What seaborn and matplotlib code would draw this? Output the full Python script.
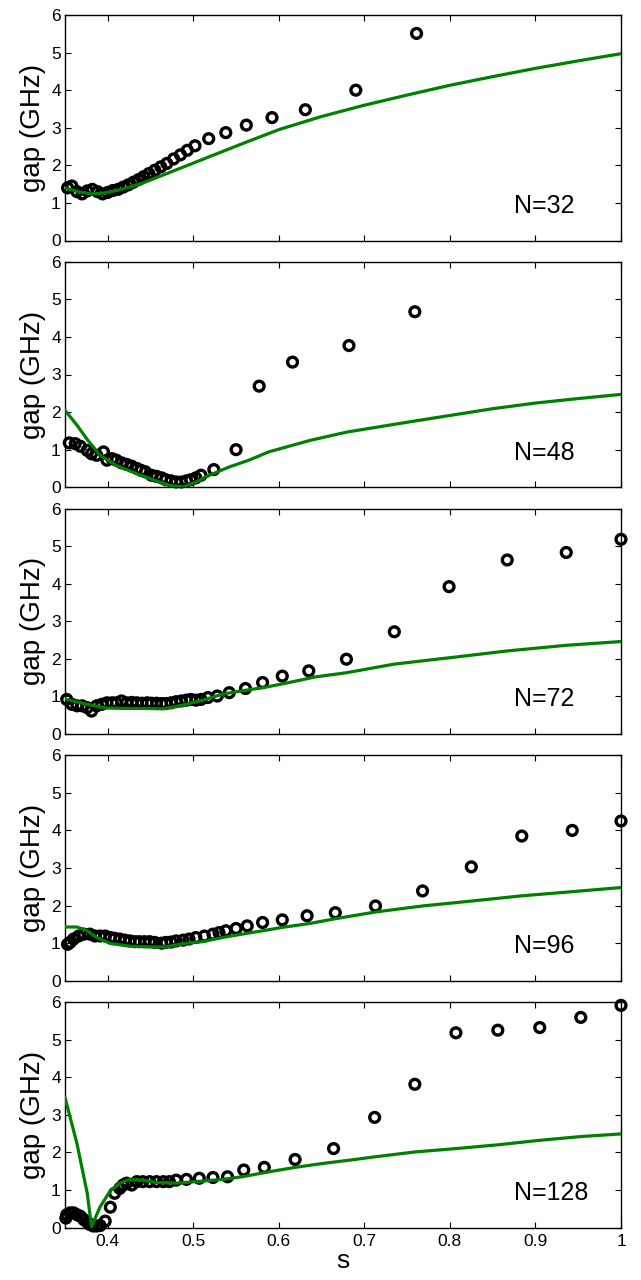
import numpy as np
import pandas as pd
import matplotlib
matplotlib.use('Agg')
import matplotlib.pyplot as plt
import seaborn as sns

# 数据: 每个N的实验点(圆圈)和理论曲线(绿线)
s_n32 = [0.353, 0.358, 0.364, 0.370, 0.376, 0.382, 0.388, 0.394, 0.400, 0.406,
         0.412, 0.418, 0.424, 0.430, 0.436, 0.442, 0.448, 0.455, 0.462, 0.469,
         0.477, 0.485, 0.493, 0.502, 0.518, 0.538, 0.562, 0.592, 0.631, 0.690, 0.761]
gap_n32 = [1.40, 1.45, 1.30, 1.24, 1.32, 1.36, 1.30, 1.24, 1.28, 1.33,
           1.36, 1.42, 1.48, 1.55, 1.62, 1.70, 1.78, 1.87, 1.96, 2.05,
           2.17, 2.28, 2.40, 2.52, 2.71, 2.87, 3.07, 3.27, 3.48, 4.00, 5.51]
s_fit_n32 = [0.350, 0.365, 0.380, 0.395, 0.410, 0.425, 0.440, 0.470, 0.500, 0.530,
             0.560, 0.600, 0.650, 0.700, 0.750, 0.800, 0.850, 0.900, 0.950, 1.000]
gap_fit_n32 = [1.40, 1.30, 1.24, 1.26, 1.33, 1.42, 1.52, 1.79, 2.06, 2.33,
               2.60, 2.95, 3.30, 3.60, 3.87, 4.13, 4.36, 4.58, 4.78, 4.97]

s_n48 = [0.355, 0.362, 0.368, 0.376, 0.381, 0.387, 0.395, 0.399, 0.405, 0.410,
         0.416, 0.422, 0.428, 0.434, 0.439, 0.444, 0.451, 0.457, 0.463, 0.468,
         0.474, 0.480, 0.486, 0.492, 0.497, 0.503, 0.509, 0.524, 0.550, 0.577,
         0.616, 0.682, 0.759]
gap_n48 = [1.18, 1.16, 1.09, 0.98, 0.89, 0.85, 0.94, 0.72, 0.76, 0.72,
           0.65, 0.61, 0.56, 0.50, 0.45, 0.41, 0.32, 0.29, 0.25, 0.20,
           0.17, 0.14, 0.14, 0.17, 0.20, 0.25, 0.32, 0.47, 1.00, 2.69,
           3.33, 3.77, 4.67]
s_fit_n48 = [0.350, 0.364, 0.376, 0.391, 0.410, 0.434, 0.457, 0.472, 0.488, 0.503,
             0.519, 0.542, 0.565, 0.588, 0.637, 0.680, 0.750, 0.800, 0.850, 0.900,
             0.950, 1.000]
gap_fit_n48 = [2.05, 1.65, 1.27, 0.85, 0.58, 0.36, 0.17, 0.05, 0.01, 0.14,
               0.32, 0.54, 0.72, 0.94, 1.25, 1.47, 1.73, 1.91, 2.09, 2.24,
               2.36, 2.47]

s_n72 = [0.352, 0.358, 0.364, 0.370, 0.376, 0.381, 0.387, 0.393, 0.399, 0.405,
         0.410, 0.416, 0.422, 0.428, 0.434, 0.440, 0.446, 0.451, 0.457, 0.463,
         0.468, 0.474, 0.480, 0.486, 0.492, 0.497, 0.503, 0.509, 0.517, 0.528,
         0.542, 0.561, 0.581, 0.604, 0.635, 0.679, 0.735, 0.799, 0.867, 0.936, 1.000]
gap_n72 = [0.92, 0.79, 0.75, 0.75, 0.70, 0.61, 0.75, 0.79, 0.83, 0.83,
           0.83, 0.88, 0.83, 0.84, 0.83, 0.82, 0.83, 0.82, 0.82, 0.81,
           0.81, 0.83, 0.86, 0.88, 0.90, 0.92, 0.90, 0.92, 0.97, 1.01,
           1.10, 1.21, 1.37, 1.54, 1.68, 1.99, 2.72, 3.92, 4.63, 4.83, 5.18]
s_fit_n72 = [0.350, 0.376, 0.395, 0.418, 0.441, 0.465, 0.488, 0.511, 0.534, 0.557,
             0.581, 0.612, 0.643, 0.679, 0.735, 0.800, 0.867, 0.936, 1.000]
gap_fit_n72 = [0.93, 0.79, 0.70, 0.68, 0.68, 0.67, 0.77, 0.90, 1.06, 1.15,
               1.23, 1.37, 1.52, 1.63, 1.86, 2.03, 2.21, 2.36, 2.46]

s_n96 = [0.353, 0.356, 0.360, 0.366, 0.372, 0.379, 0.385, 0.391, 0.397, 0.403,
         0.408, 0.414, 0.420, 0.426, 0.432, 0.437, 0.443, 0.449, 0.455, 0.463,
         0.468, 0.474, 0.480, 0.488, 0.495, 0.503, 0.513, 0.523, 0.530, 0.538,
         0.550, 0.563, 0.581, 0.604, 0.633, 0.666, 0.713, 0.768, 0.825, 0.884,
         0.943, 1.000]
gap_n96 = [0.97, 1.02, 1.11, 1.19, 1.24, 1.24, 1.19, 1.19, 1.19, 1.15,
           1.13, 1.11, 1.08, 1.06, 1.04, 1.04, 1.04, 1.04, 1.02, 1.00,
           1.02, 1.03, 1.06, 1.08, 1.11, 1.15, 1.19, 1.24, 1.28, 1.33,
           1.39, 1.46, 1.55, 1.62, 1.73, 1.81, 1.99, 2.39, 3.03, 3.85,
           4.00, 4.25]
s_fit_n96 = [0.350, 0.364, 0.376, 0.387, 0.403, 0.426, 0.449, 0.468, 0.488, 0.511,
             0.534, 0.557, 0.581, 0.604, 0.635, 0.666, 0.713, 0.768, 0.825, 0.884,
             0.943, 1.000]
gap_fit_n96 = [1.43, 1.43, 1.33, 1.15, 0.99, 0.92, 0.90, 0.90, 0.99, 1.04,
               1.15, 1.24, 1.33, 1.42, 1.52, 1.65, 1.83, 1.99, 2.12, 2.26,
               2.37, 2.48]

s_n128 = [0.351, 0.352, 0.356, 0.360, 0.364, 0.368, 0.372, 0.376, 0.379, 0.383,
          0.387, 0.391, 0.397, 0.403, 0.408, 0.414, 0.418, 0.422, 0.428, 0.434,
          0.441, 0.449, 0.457, 0.465, 0.472, 0.480, 0.492, 0.507, 0.523, 0.540,
          0.559, 0.583, 0.619, 0.664, 0.712, 0.759, 0.807, 0.856, 0.905, 0.953, 1.000]
gap_n128 = [0.25, 0.34, 0.39, 0.39, 0.34, 0.30, 0.21, 0.14, 0.08, 0.04,
            0.04, 0.05, 0.17, 0.54, 0.91, 1.04, 1.13, 1.18, 1.13, 1.22,
            1.22, 1.22, 1.22, 1.22, 1.22, 1.26, 1.28, 1.31, 1.33, 1.35,
            1.53, 1.60, 1.81, 2.10, 2.93, 3.81, 5.18, 5.25, 5.32, 5.59, 5.91]
s_fit_n128 = [0.350, 0.364, 0.376, 0.381, 0.391, 0.403, 0.414, 0.424, 0.437, 0.457,
              0.480, 0.503, 0.534, 0.557, 0.588, 0.619, 0.650, 0.689, 0.712, 0.759,
              0.807, 0.856, 0.905, 0.953, 1.000]
gap_fit_n128 = [3.46, 2.23, 0.91, 0.02, 0.55, 0.98, 1.18, 1.27, 1.27, 1.20,
                1.18, 1.22, 1.28, 1.35, 1.48, 1.60, 1.70, 1.81, 1.88, 2.01,
                2.10, 2.20, 2.32, 2.42, 2.49]

n_labels = ['N=32', 'N=48', 'N=72', 'N=96', 'N=128']
panels = [
    (s_n32, gap_n32, s_fit_n32, gap_fit_n32),
    (s_n48, gap_n48, s_fit_n48, gap_fit_n48),
    (s_n72, gap_n72, s_fit_n72, gap_fit_n72),
    (s_n96, gap_n96, s_fit_n96, gap_fit_n96),
    (s_n128, gap_n128, s_fit_n128, gap_fit_n128),
]
x_ticks = [0.4, 0.5, 0.6, 0.7, 0.8, 0.9, 1.0]
x_tick_labels = ['0.4', '0.5', '0.6', '0.7', '0.8', '0.9', '1']
y_ticks = [0, 1, 2, 3, 4, 5, 6]

sns.set_theme(style='ticks')
plt.rcParams['font.family'] = ['Liberation Sans', 'DejaVu Sans']
plt.rcParams['text.color'] = 'black'
plt.rcParams['axes.labelcolor'] = 'black'

fig = plt.figure(figsize=(6.41, 12.8), dpi=100)

W, H = 641.0, 1280.0
ax_left, ax_right = 65, 621
ax_h = 225.5
tops = [15 + i * 246.75 for i in range(5)]

for i, (sx, sy, fx, fy) in enumerate(panels):
    ax = fig.add_axes([ax_left / W, 1 - (tops[i] + ax_h) / H,
                       (ax_right - ax_left) / W, ax_h / H])
    pts = pd.DataFrame({'s': sx, 'gap': sy})
    fit = pd.DataFrame({'s': fx, 'gap': fy})

    # 圆圈在下, 绿线在上
    sns.scatterplot(data=pts, x='s', y='gap', ax=ax, marker='o', s=50,
                    facecolor='none', edgecolor='black', linewidth=2.4,
                    clip_on=False, zorder=3)
    sns.lineplot(data=fit, x='s', y='gap', ax=ax, color='#008000',
                 linewidth=2.3, sort=False, estimator=None, zorder=4)

    ax.set_xlim(0.35, 1.0)
    ax.set_ylim(0, 6)
    ax.set_xticks(x_ticks)
    ax.set_yticks(y_ticks)
    ax.set_yticklabels([str(v) for v in y_ticks])
    ax.tick_params(axis='both', which='both', direction='in', length=4,
                   width=0.8, top=True, right=True, labelsize=12.5,
                   colors='black')
    ax.tick_params(axis='y', pad=3)
    ax.tick_params(axis='x', pad=4.5)
    for sp in ax.spines.values():
        sp.set_linewidth(1.0)
        sp.set_color('black')
    ax.set_ylabel('gap (GHz)', fontsize=20, labelpad=4)
    if i < 4:
        ax.set_xticklabels([])
        ax.set_xlabel('')
    else:
        ax.set_xticklabels(x_tick_labels)
        ax.set_xlabel('s', fontsize=19, labelpad=0)
    ax.text(0.808, 0.122, n_labels[i], transform=ax.transAxes, fontsize=18,
            ha='left', va='baseline')

fig.savefig('out.png', dpi=100)
